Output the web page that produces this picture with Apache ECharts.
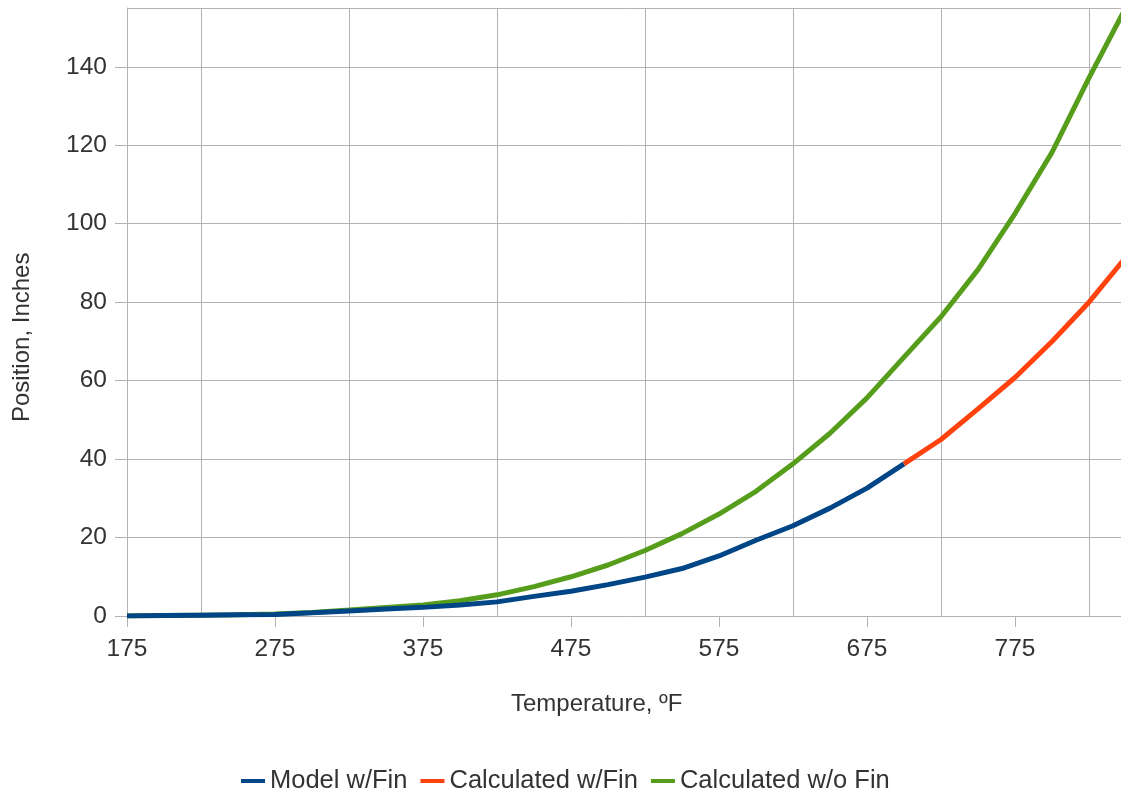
<!DOCTYPE html>
<html>
<head>
<meta charset="utf-8">
<script src="https://cdn.jsdelivr.net/npm/echarts@6/dist/echarts.min.js"></script>
<style>
  html, body { margin: 0; padding: 0; background: #ffffff; overflow: hidden; }
  #chart { width: 1121px; height: 794px; }
</style>
</head>
<body>
<div id="chart"></div>
<script>
// Temperature categories (°F), one every 25 degrees
const categories = ['175','200','225','250','275','300','325','350','375','400','425','450','475','500',
                    '525','550','575','600','625','650','675','700','725','750','775','800','825','850'];
// Position, inches
const modelWithFin = [0, 0.1, 0.2, 0.3, 0.4, 0.8, 1.3, 1.8, 2.2, 2.8, 3.6, 5.0, 6.3, 8.0,
                      9.9, 12.1, 15.3, 19.3, 23.0, 27.5, 32.6, 38.8, null, null, null, null, null, null];
const calcWithFin = [null, null, null, null, null, null, null, null, null, null, null, null, null, null,
                     null, null, null, null, null, null, null, 38.8, 45.0, 52.8, 60.8, 70.0, 80.0, 91.5];
const calcWithoutFin = [0, 0.1, 0.2, 0.3, 0.5, 0.9, 1.5, 2.2, 2.8, 3.9, 5.4, 7.5, 10.0, 13.0,
                        16.7, 21.0, 26.0, 31.8, 38.8, 46.6, 55.6, 66.0, 76.3, 88.3, 102.6, 118.2, 137.2, 155.2];
const seriesNames = ['Model w/Fin', 'Calculated w/Fin', 'Calculated w/o Fin'];
const yMin = 0, yMax = 155, yStep = 20;

const FONT = '"Liberation Sans", Arial, sans-serif';
const TXT = '#333333';
const GRID = '#b3b3b3';

const chart = echarts.init(document.getElementById('chart'), null, { renderer: 'canvas' });
chart.setOption({
  animation: false,
  backgroundColor: '#ffffff',
  textStyle: { fontFamily: FONT, color: TXT },
  grid: { left: 127, width: 999, top: 8, bottom: 178, containLabel: false, outerBoundsMode: 'none' },
  legend: {
    data: seriesNames,
    left: 236, top: 763,
    icon: 'rect', itemWidth: 24, itemHeight: 4, itemGap: 13,
    textStyle: { fontFamily: FONT, fontSize: 25.5, color: TXT }
  },
  graphic: [
    { type: 'text', top: 692, left: 511,
      style: { text: 'Temperature, ºF', font: '24px ' + FONT, fill: TXT } },
    { type: 'text', rotation: Math.PI / 2, x: 10, y: 422,
      style: { text: 'Position, Inches', font: '24px ' + FONT, fill: TXT, align: 'left', verticalAlign: 'top' } }
  ],
  xAxis: {
    type: 'category', data: categories, boundaryGap: false,
    axisLine: { lineStyle: { color: GRID, width: 1 } },
    axisTick: { show: true, interval: 3, length: 11, lineStyle: { color: GRID } },
    axisLabel: { interval: 3, margin: 21, fontSize: 24.5, color: TXT, fontFamily: FONT },
    splitLine: { show: true, interval: function (i) { return i % 4 === 2; }, lineStyle: { color: GRID, width: 1 } }
  },
  yAxis: {
    type: 'value', min: yMin, max: yMax, interval: yStep,
    axisLine: { show: true, lineStyle: { color: GRID, width: 1 } },
    axisTick: { show: true, length: 12, lineStyle: { color: GRID } },
    axisLabel: { margin: 20, fontSize: 24.5, color: TXT, fontFamily: FONT, showMaxLabel: false },
    splitLine: { show: true, lineStyle: { color: GRID, width: 1 } }
  },
  series: [
    { name: seriesNames[0], type: 'line', data: modelWithFin, symbol: 'none', z: 3,
      itemStyle: { color: '#004586' }, lineStyle: { color: '#004586', width: 5 } },
    { name: seriesNames[1], type: 'line', data: calcWithFin, symbol: 'none', z: 3,
      itemStyle: { color: '#ff420e' }, lineStyle: { color: '#ff420e', width: 5 } },
    { name: seriesNames[2], type: 'line', data: calcWithoutFin, symbol: 'none', z: 2,
      itemStyle: { color: '#579d1c' }, lineStyle: { color: '#579d1c', width: 5 } }
  ]
});
</script>
</body>
</html>
